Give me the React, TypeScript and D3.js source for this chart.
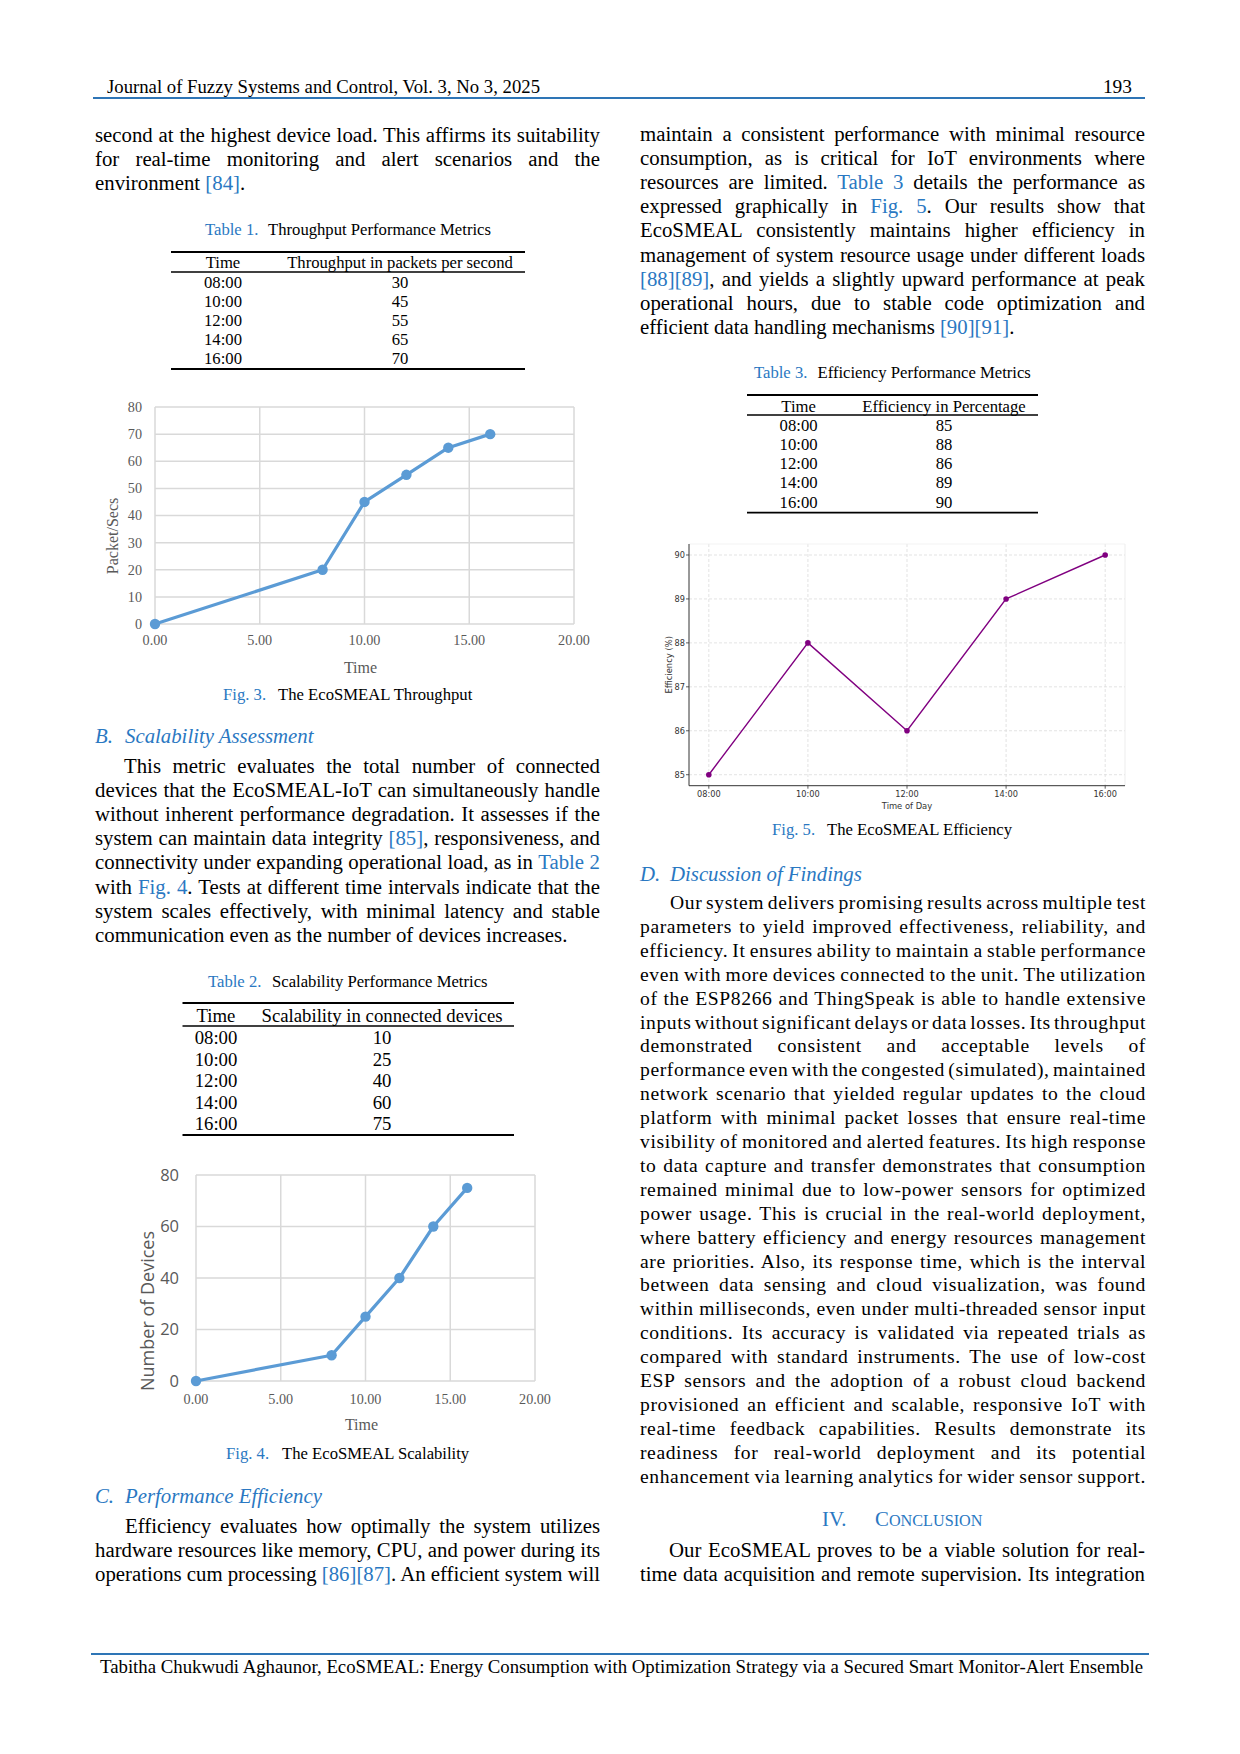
import * as d3 from "d3";
import { useEffect, useRef } from "react";

// ---- table + chart values ----
const times = ["08:00", "10:00", "12:00", "14:00", "16:00"];
const throughputTable = [30, 45, 55, 65, 70];
const scalabilityTable = [10, 25, 40, 60, 75];
const efficiencyTable = [85, 88, 86, 89, 90];

const chartHours = [0, 8, 10, 12, 14, 16];
const throughputPlotted = [0, 20, 45, 55, 65, 70];
const devicesPlotted = [0, 10, 25, 40, 60, 75];
const efficiencyHours = [8, 10, 12, 14, 16];
const efficiencyPlotted = [85, 88, 86, 89, 90];

const hourTicks = [0, 5, 10, 15, 20];
const packetTicks = [0, 10, 20, 30, 40, 50, 60, 70, 80];
const deviceTicks = [0, 20, 40, 60, 80];
const effTicks = [85, 86, 87, 88, 89, 90];

// ---- page text ({...} = blue link text) ----
const leftTop = [
  "second at the highest device load. This affirms its suitability",
  "for real-time monitoring and alert scenarios and the",
  "environment {[84]}.",
];
const scalabilityPara = [
  "This metric evaluates the total number of connected",
  "devices that the EcoSMEAL-IoT can simultaneously handle",
  "without inherent performance degradation. It assesses if the",
  "system can maintain data integrity {[85]}, responsiveness, and",
  "connectivity under expanding operational load, as in {Table 2}",
  "with {Fig. 4}. Tests at different time intervals indicate that the",
  "system scales effectively, with minimal latency and stable",
  "communication even as the number of devices increases.",
];
const efficiencyPara = [
  "Efficiency evaluates how optimally the system utilizes",
  "hardware resources like memory, CPU, and power during its",
  "operations cum processing {[86][87]}. An efficient system will",
];
const rightTop = [
  "maintain a consistent performance with minimal resource",
  "consumption, as is critical for IoT environments where",
  "resources are limited. {Table 3} details the performance as",
  "expressed graphically in {Fig. 5}. Our results show that",
  "EcoSMEAL consistently maintains higher efficiency in",
  "management of system resource usage under different loads",
  "{[88][89]}, and yields a slightly upward performance at peak",
  "operational hours, due to stable code optimization and",
  "efficient data handling mechanisms {[90][91]}.",
];
const discussion = [
  "Our system delivers promising results across multiple test",
  "parameters to yield improved effectiveness, reliability, and",
  "efficiency. It ensures ability to maintain a stable performance",
  "even with more devices connected to the unit. The utilization",
  "of the ESP8266 and ThingSpeak is able to handle extensive",
  "inputs without significant delays or data losses. Its throughput",
  "demonstrated consistent and acceptable levels of",
  "performance even with the congested (simulated), maintained",
  "network scenario that yielded regular updates to the cloud",
  "platform with minimal packet losses that ensure real-time",
  "visibility of monitored and alerted features. Its high response",
  "to data capture and transfer demonstrates that consumption",
  "remained minimal due to low-power sensors for optimized",
  "power usage. This is crucial in the real-world deployment,",
  "where battery efficiency and energy resources management",
  "are priorities. Also, its response time, which is the interval",
  "between data sensing and cloud visualization, was found",
  "within milliseconds, even under multi-threaded sensor input",
  "conditions. Its accuracy is validated via repeated trials as",
  "compared with standard instruments. The use of low-cost",
  "ESP sensors and the adoption of a robust cloud backend",
  "provisioned an efficient and scalable, responsive IoT with",
  "real-time feedback capabilities. Results demonstrate its",
  "readiness for real-world deployment and its potential",
  "enhancement via learning analytics for wider sensor support.",
];
const conclusion = [
  "Our EcoSMEAL proves to be a viable solution for real-",
  "time data acquisition and remote supervision. Its integration",
];

const SERIF = "'Liberation Serif', 'Times New Roman', serif";
const SANS = "'Open Sans', 'Noto Sans', sans-serif";
const MPL = "'DejaVu Sans', sans-serif";
const BLUE = "#2a78c2";
const RULE = "#2e75b6";
const EXCEL_BLUE = "#5b9bd5";
const GRID = "#d9d9d9";
const AXIS_TXT = "#595959";

function TextLine({ x, y, w, s, justify, size = 20.8, ls = 0 }: any) {
  const parts = s.split(/(\{[^}]*\})/).filter(Boolean);
  return (
    <text
      x={x}
      y={y}
      fontSize={size}
      fontFamily={SERIF}
      className={justify ? "jl" : undefined}
      data-w={w}
      style={{ whiteSpace: "pre", letterSpacing: ls ? `${ls}px` : undefined }}
    >
      {parts.map((p: string, i: number) =>
        p.startsWith("{") ? (
          <tspan key={i} fill={BLUE}>
            {p.slice(1, -1)}
          </tspan>
        ) : (
          p
        )
      )}
    </text>
  );
}

function Paragraph({ lines, x, y0, step, w, indent = 0, justifyLast = false, ls = 0, size = 20.8 }: any) {
  return (
    <g>
      {lines.map((s: string, i: number) => {
        const dx = i === 0 ? indent : 0;
        const last = i === lines.length - 1;
        return (
          <TextLine
            key={i}
            x={x + dx}
            y={y0 + i * step}
            w={w - dx}
            s={s}
            justify={!last || justifyLast}
            ls={ls}
            size={size}
          />
        );
      })}
    </g>
  );
}

function Heading({ x, y, label, title, gap = 30 }: any) {
  return (
    <text x={x} y={y} fontSize={20.8} fontFamily={SERIF} fontStyle="italic" fill={BLUE}>
      {label}
      <tspan x={x + gap}>{title}</tspan>
    </text>
  );
}

function Caption({ x, y, label, title, titleX, size = 16.67 }: any) {
  return (
    <text x={x} y={y} fontSize={size} fontFamily={SERIF}>
      <tspan fill={BLUE}>{label}</tspan>
      <tspan x={titleX} fill="#000">
        {title}
      </tspan>
    </text>
  );
}

function Table({ left, right, top, headRule, headY, rowY0, rowStep, bottom, timeX, valX, header, values, size }: any) {
  return (
    <g fontFamily={SERIF} fontSize={size} textAnchor="middle">
      <line x1={left} x2={right} y1={top} y2={top} stroke="#000" strokeWidth={1.8} />
      <line x1={left} x2={right} y1={headRule} y2={headRule} stroke="#000" strokeWidth={1.6} />
      <line x1={left} x2={right} y1={bottom} y2={bottom} stroke="#000" strokeWidth={1.8} />
      <text x={timeX} y={headY}>Time</text>
      <text x={valX} y={headY}>{header}</text>
      {times.map((t, i) => (
        <g key={t}>
          <text x={timeX} y={rowY0 + i * rowStep}>{t}</text>
          <text x={valX} y={rowY0 + i * rowStep}>{values[i]}</text>
        </g>
      ))}
    </g>
  );
}

function ExcelChart({ box, yMax, yTicks, ys, yLabel, yLabelPos, yTickRight, yTickFont, yTickSize, yLabelFont, yLabelSize, xLabelY, xTitleY }: any) {
  const x = d3.scaleLinear().domain([0, 20]).range([box.left, box.right]);
  const y = d3.scaleLinear().domain([0, yMax]).range([box.bottom, box.top]);
  const line = d3.line<number>((_, i) => x(chartHours[i]), (d) => y(d));
  return (
    <g>
      {hourTicks.map((t) => (
        <line key={"vx" + t} x1={x(t)} x2={x(t)} y1={y(0)} y2={y(yMax)} stroke={GRID} strokeWidth={1.5} />
      ))}
      {yTicks.map((t: number) => (
        <line key={"hy" + t} x1={x(0)} x2={x(20)} y1={y(t)} y2={y(t)} stroke={GRID} strokeWidth={1.5} />
      ))}
      <path d={line(ys) || undefined} fill="none" stroke={EXCEL_BLUE} strokeWidth={3.2} strokeLinejoin="round" />
      {ys.map((d: number, i: number) => (
        <circle key={i} cx={x(chartHours[i])} cy={y(d)} r={5.2} fill={EXCEL_BLUE} />
      ))}
      <g fill={AXIS_TXT} fontFamily={yTickFont} fontSize={yTickSize} textAnchor="end">
        {yTicks.map((t: number) => (
          <text key={t} x={yTickRight} y={y(t)} dy="0.35em">
            {t}
          </text>
        ))}
      </g>
      <g fill={AXIS_TXT} fontFamily={SERIF} fontSize={14.2} textAnchor="middle">
        {hourTicks.map((t) => (
          <text key={t} x={x(t)} y={xLabelY}>
            {d3.format(".2f")(t)}
          </text>
        ))}
        <text x={(box.left + box.right) / 2 - 4} y={xTitleY} fontSize={16}>
          Time
        </text>
      </g>
      <text
        transform={`translate(${yLabelPos[0]},${yLabelPos[1]}) rotate(-90)`}
        textAnchor="middle"
        fill={AXIS_TXT}
        fontFamily={yLabelFont}
        fontSize={yLabelSize}
      >
        {yLabel}
      </text>
    </g>
  );
}

function EfficiencyChart() {
  const left = 689, right = 1125, top = 544, bottom = 785.7;
  const x = d3.scaleLinear().domain([7.6, 16.4]).range([left, right]);
  const y = d3.scaleLinear().domain([84.75, 90.25]).range([bottom, top]);
  const line = d3.line<number>((_, i) => x(efficiencyHours[i]), (d) => y(d));
  return (
    <g fontFamily={MPL}>
      {efficiencyHours.map((h) => (
        <line key={"v" + h} x1={x(h)} x2={x(h)} y1={top} y2={bottom} stroke="#dcdcdc" strokeWidth={0.8} strokeDasharray="3,2" />
      ))}
      {effTicks.map((t) => (
        <line key={"h" + t} x1={left} x2={right} y1={y(t)} y2={y(t)} stroke="#dcdcdc" strokeWidth={0.8} strokeDasharray="3,2" />
      ))}
      <line x1={right} x2={right} y1={top} y2={bottom} stroke="#e8e8e8" strokeWidth={0.8} />
      <line x1={left} x2={right} y1={top} y2={top} stroke="#f0f0f0" strokeWidth={0.8} />
      <line x1={left} x2={left} y1={top} y2={bottom} stroke="#333" strokeWidth={1} />
      <line x1={left} x2={right} y1={bottom} y2={bottom} stroke="#333" strokeWidth={1} />
      <path d={line(efficiencyPlotted) || undefined} fill="none" stroke="#800080" strokeWidth={1.4} />
      {efficiencyPlotted.map((d, i) => (
        <circle key={i} cx={x(efficiencyHours[i])} cy={y(d)} r={2.8} fill="#800080" />
      ))}
      <g fontSize={8.2} fill="#333">
        {effTicks.map((t) => (
          <g key={t}>
            <line x1={left - 3} x2={left} y1={y(t)} y2={y(t)} stroke="#333" strokeWidth={0.8} />
            <text x={left - 4} y={y(t)} dy="0.35em" textAnchor="end">
              {t}
            </text>
          </g>
        ))}
        {efficiencyHours.map((h, i) => (
          <g key={h}>
            <line x1={x(h)} x2={x(h)} y1={bottom} y2={bottom + 3} stroke="#333" strokeWidth={0.8} />
            <text x={x(h)} y={bottom + 11} textAnchor="middle">
              {times[i]}
            </text>
          </g>
        ))}
        <text x={(left + right) / 2} y={bottom + 23} textAnchor="middle" fontSize={8.4}>
          Time of Day
        </text>
        <text transform={`translate(672,${(top + bottom) / 2}) rotate(-90)`} textAnchor="middle" fontSize={8.4}>
          Efficiency (%)
        </text>
      </g>
    </g>
  );
}

export default function App() {
  const ref = useRef<SVGSVGElement | null>(null);

  useEffect(() => {
    const justify = () => {
      if (!ref.current) return;
      d3.select(ref.current)
        .selectAll<SVGTextElement, unknown>("text.jl")
        .each(function () {
          this.style.wordSpacing = "0px";
          const target = +(this.getAttribute("data-w") || 0);
          const natural = this.getComputedTextLength();
          const gaps = (this.textContent || "").trim().split(/\s+/).length - 1;
          if (gaps > 0) this.style.wordSpacing = `${(target - natural) / gaps}px`;
        });
    };
    justify();
    (document as any).fonts?.ready?.then(justify);
  }, []);

  const L = 95, R = 640, W = 505;

  return (
    <svg
      ref={ref}
      width={1240}
      height={1754}
      viewBox="0 0 1240 1754"
      style={{ position: "absolute", left: 0, top: 0, background: "#fff" }}
    >
      <rect width={1240} height={1754} fill="#fff" />

      {/* running header */}
      <text x={107} y={93} fontFamily={SERIF} fontSize={19.4} textLength={433} lengthAdjust="spacingAndGlyphs">
        Journal of Fuzzy Systems and Control, Vol. 3, No 3, 2025
      </text>
      <text x={1132} y={93} fontFamily={SERIF} fontSize={19.4} textAnchor="end">
        193
      </text>
      <line x1={93} x2={1145} y1={98} y2={98} stroke={RULE} strokeWidth={2.2} />

      {/* left column */}
      <Paragraph lines={leftTop} x={L} y0={142} step={24.1} w={W} />

      <Caption x={205} y={235} label="Table 1." title="Throughput Performance Metrics" titleX={268} />
      <Table
        left={171} right={525} top={252} headRule={272} headY={268}
        rowY0={288} rowStep={19} bottom={369} timeX={223} valX={400}
        header="Throughput in packets per second" values={throughputTable} size={16.67}
      />

      <ExcelChart
        box={{ left: 155, right: 574, top: 407, bottom: 624 }}
        yMax={80} yTicks={packetTicks} ys={throughputPlotted}
        yLabel="Packet/Secs" yLabelPos={[117.5, 536]}
        yTickRight={142} yTickFont={SERIF} yTickSize={14.2}
        yLabelFont={SERIF} yLabelSize={16}
        xLabelY={645} xTitleY={673}
      />
      <Caption x={223} y={700} label="Fig. 3." title="The EcoSMEAL Throughput" titleX={278} />

      <Heading x={L} y={743} label="B." title="Scalability Assessment" />
      <Paragraph lines={scalabilityPara} x={L} y0={773} step={24.1} w={W} indent={29} />

      <Caption x={208} y={987} label="Table 2." title="Scalability Performance Metrics" titleX={272} />
      <Table
        left={182.5} right={514} top={1003} headRule={1026} headY={1022}
        rowY0={1044} rowStep={21.5} bottom={1135} timeX={216} valX={382}
        header="Scalability in connected devices" values={scalabilityTable} size={18.75}
      />

      <ExcelChart
        box={{ left: 196, right: 535, top: 1175, bottom: 1381 }}
        yMax={80} yTicks={deviceTicks} ys={devicesPlotted}
        yLabel="Number of Devices" yLabelPos={[154, 1311]}
        yTickRight={179} yTickFont={SANS} yTickSize={16.5}
        yLabelFont={SANS} yLabelSize={18}
        xLabelY={1404} xTitleY={1430}
      />
      <Caption x={226} y={1459} label="Fig. 4." title="The EcoSMEAL Scalability" titleX={282} />

      <Heading x={L} y={1503} label="C." title="Performance Efficiency" />
      <Paragraph lines={efficiencyPara} x={L} y0={1533} step={24.1} w={W} indent={30} justifyLast />

      {/* right column */}
      <Paragraph lines={rightTop} x={R} y0={141} step={24.1} w={W} />

      <Caption x={754} y={378} label="Table 3." title="Efficiency Performance Metrics" titleX={817.5} />
      <Table
        left={747} right={1038} top={395} headRule={415} headY={412}
        rowY0={430.7} rowStep={19.25} bottom={512.7} timeX={798.6} valX={944}
        header="Efficiency in Percentage" values={efficiencyTable} size={16.67}
      />

      <EfficiencyChart />
      <Caption x={772} y={835} label="Fig. 5." title="The EcoSMEAL Efficiency" titleX={827} />

      <Heading x={R} y={881} label="D." title="Discussion of Findings" />
      <Paragraph lines={discussion} x={R} y0={909} step={23.9} w={W + 1} indent={30} justifyLast size={19.6} ls={0.6} />

      <text x={822} y={1526} fontFamily={SERIF} fontSize={20.8} fill={BLUE}>
        IV.
        <tspan x={875}>C</tspan>
        <tspan fontSize={16.2}>ONCLUSION</tspan>
      </text>
      <Paragraph lines={conclusion} x={R} y0={1557} step={24.1} w={W} indent={29} justifyLast />

      {/* running footer */}
      <line x1={91} x2={1149} y1={1654} y2={1654} stroke={RULE} strokeWidth={2.2} />
      <text x={100} y={1673} fontFamily={SERIF} fontSize={18.75} textLength={1043} lengthAdjust="spacingAndGlyphs">
        Tabitha Chukwudi Aghaunor, EcoSMEAL: Energy Consumption with Optimization Strategy via a Secured Smart Monitor-Alert Ensemble
      </text>
    </svg>
  );
}
